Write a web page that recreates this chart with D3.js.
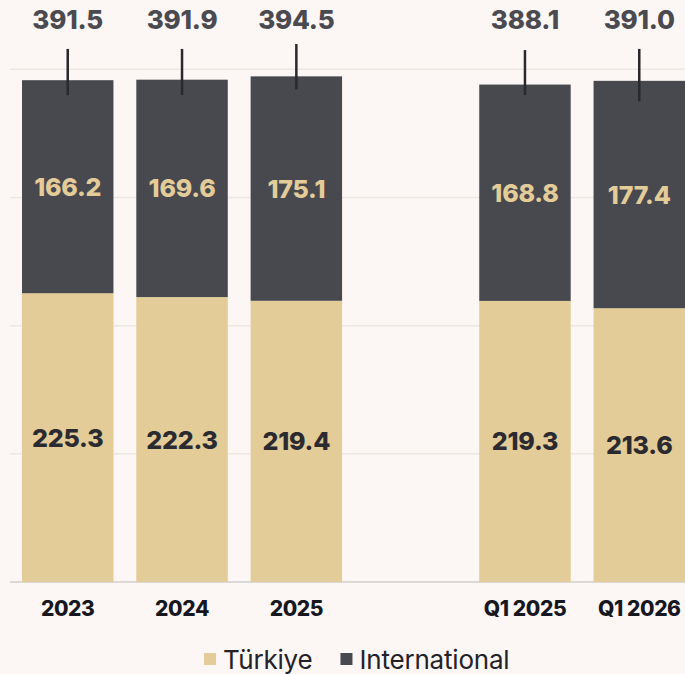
<!DOCTYPE html>
<html>
<head>
<meta charset="utf-8">
<script src="https://cdn.jsdelivr.net/npm/d3@7"></script>
<style>
  html, body { margin: 0; padding: 0; background: #fcf7f5; }
  svg { display: block; }
</style>
</head>
<body>
<div id="chart"></div>
<script>
// chart data
const categories = ["2023", "2024", "2025", "Q1 2025", "Q1 2026"];
const turkiye = [225.3, 222.3, 219.4, 219.3, 213.6];
const international = [166.2, 169.6, 175.1, 168.8, 177.4];
const totals = [391.5, 391.9, 394.5, 388.1, 391.0];
const errLow = [379.9, 379.9, 384.4, 379.9, 374.9];
const errHigh = [415.9, 415.9, 419.7, 415.0, 415.9];
const yTicks = [0, 100, 200, 300, 400];
const seriesNames = ["Türkiye", "International"];

const width = 685;
const height = 674;
const colors = { "Türkiye": "#e3cc98", "International": "#48484f" };
const font = "Inter, 'Noto Sans', sans-serif";

const svg = d3.select("#chart")
  .append("svg")
  .attr("width", width)
  .attr("height", height);

svg.append("rect")
  .attr("width", width)
  .attr("height", height)
  .attr("fill", "#fcf7f5");

// empty slot between annual and quarterly bars
const slots = [...categories.slice(0, 3), "__gap", ...categories.slice(3)];

const x = d3.scaleBand()
  .domain(slots)
  .range([22, 685])
  .paddingInner(0.2)
  .paddingOuter(0);

const y = d3.scaleLinear()
  .domain([0, 400])
  .range([582, 69.3]);

// gridlines
svg.append("g")
  .selectAll("line")
  .data(yTicks)
  .join("line")
  .attr("x1", 10)
  .attr("x2", width)
  .attr("y1", (d) => y(d))
  .attr("y2", (d) => y(d))
  .attr("stroke", (d) => (d === 0 ? "#dcd8d6" : "#ede7e4"))
  .attr("stroke-width", (d) => (d === 0 ? 2 : 1.5));

const rows = categories.map((c, i) => ({
  cat: c,
  "Türkiye": turkiye[i],
  "International": international[i],
  total: totals[i],
  lo: errLow[i],
  hi: errHigh[i]
}));

const stacked = d3.stack().keys(seriesNames)(rows);

const layers = svg.append("g")
  .selectAll("g")
  .data(stacked)
  .join("g")
  .attr("fill", (s) => colors[s.key]);

layers.selectAll("rect")
  .data((s) => s)
  .join("rect")
  .attr("x", (d) => x(d.data.cat))
  .attr("width", x.bandwidth())
  .attr("y", (d) => y(d[1]))
  .attr("height", (d) => y(d[0]) - y(d[1]));

// segment labels
layers.selectAll("text")
  .data((s) => s.map((d) => ({ d: d, key: s.key })))
  .join("text")
  .attr("x", (o) => x(o.d.data.cat) + x.bandwidth() / 2)
  .attr("y", (o) => (y(o.d[0]) + y(o.d[1])) / 2)
  .attr("dy", "0.36em")
  .attr("text-anchor", "middle")
  .attr("fill", (o) => (o.key === "Türkiye" ? "#2a2a30" : "#e3cc98"))
  .style("font-family", font)
  .style("font-weight", 800)
  .style("font-size", "25px")
  .style("letter-spacing", "-0.2px")
  .text((o) => o.d.data[o.key].toFixed(1));

// range markers
svg.append("g")
  .selectAll("line")
  .data(rows)
  .join("line")
  .attr("x1", (d) => x(d.cat) + x.bandwidth() / 2)
  .attr("x2", (d) => x(d.cat) + x.bandwidth() / 2)
  .attr("y1", (d) => y(d.hi))
  .attr("y2", (d) => y(d.lo))
  .attr("stroke", "#28282d")
  .attr("stroke-width", 2.5);

// totals on top
svg.append("g")
  .selectAll("text")
  .data(rows)
  .join("text")
  .attr("x", (d) => x(d.cat) + x.bandwidth() / 2)
  .attr("y", 29)
  .attr("text-anchor", "middle")
  .attr("fill", "#4a4a50")
  .style("font-family", font)
  .style("font-weight", 800)
  .style("font-size", "26px")
  .style("letter-spacing", "-0.2px")
  .text((d) => d.total.toFixed(1));

// x axis labels
const xAxis = svg.append("g")
  .attr("transform", "translate(0,582)")
  .call(d3.axisBottom(x).tickSize(0).tickPadding(0)
    .tickFormat((d) => (d === "__gap" ? "" : d)));

xAxis.select(".domain").remove();
xAxis.selectAll("text")
  .attr("y", 34)
  .attr("dy", 0)
  .attr("fill", "#16171f")
  .style("font-family", font)
  .style("font-weight", 800)
  .style("font-size", "21px")
  .style("letter-spacing", "-0.4px");

// legend
const legend = svg.append("g").attr("transform", "translate(204,669)");
let lx = 0;
seriesNames.forEach((name) => {
  const item = legend.append("g").attr("transform", "translate(" + lx + ",0)");
  item.append("rect")
    .attr("x", 0)
    .attr("y", -16)
    .attr("width", 12)
    .attr("height", 12)
    .attr("fill", colors[name]);
  const t = item.append("text")
    .attr("x", 19)
    .attr("y", 0)
    .attr("fill", "#222228")
    .style("font-family", font)
    .style("font-size", "26px")
    .style("letter-spacing", "-0.2px")
    .text(name);
  lx += 19 + t.node().getComputedTextLength() + 28;
});
</script>
</body>
</html>
